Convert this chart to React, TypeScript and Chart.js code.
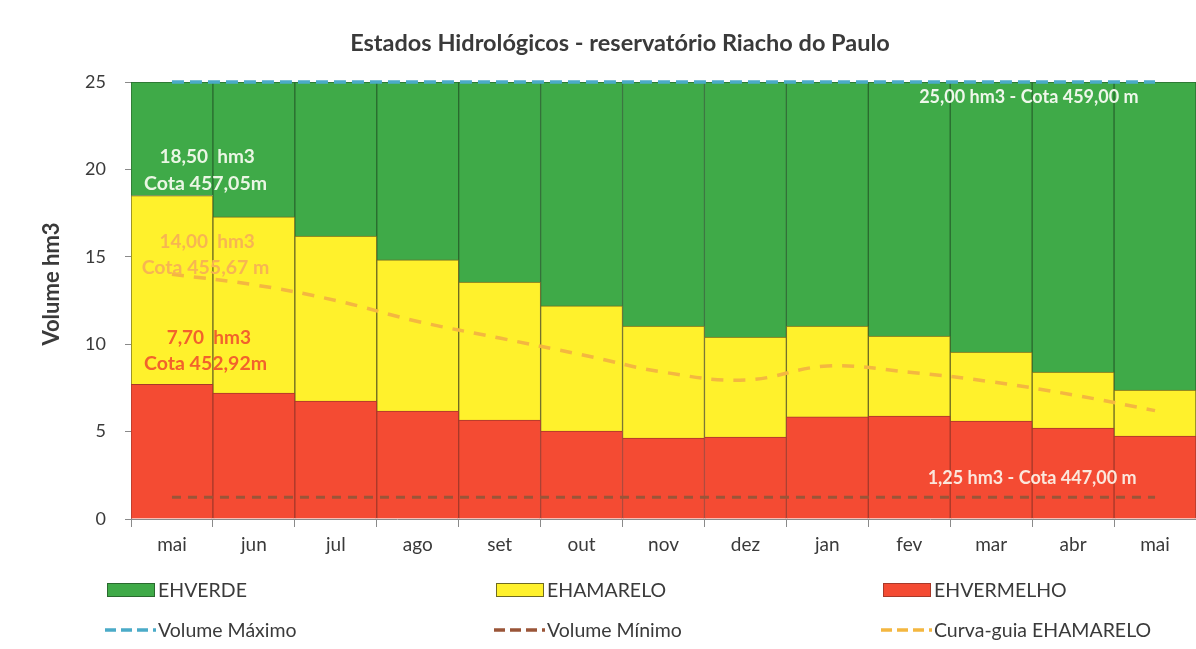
import React, { useEffect, useRef } from "react";
import { Chart, registerables } from "chart.js";

Chart.register(...registerables);

// ---------- data ----------
const months = ["mai", "jun", "jul", "ago", "set", "out", "nov", "dez", "jan", "fev", "mar", "abr", "mai"];
const redTop = [7.7, 7.2, 6.75, 6.18, 5.66, 5.03, 4.63, 4.69, 5.84, 5.89, 5.6, 5.2, 4.75];
const yellowTop = [18.5, 17.28, 16.19, 14.82, 13.56, 12.19, 11.04, 10.41, 11.04, 10.47, 9.55, 8.41, 7.38];
const greenTop = [25, 25, 25, 25, 25, 25, 25, 25, 25, 25, 25, 25, 25];
const volumeMax = [25, 25, 25, 25, 25, 25, 25, 25, 25, 25, 25, 25, 25];
const volumeMin = [1.25, 1.25, 1.25, 1.25, 1.25, 1.25, 1.25, 1.25, 1.25, 1.25, 1.25, 1.25, 1.25];
const curveGuide = [14.0, 13.4, 12.5, 11.3, 10.35, 9.4, 8.4, 7.95, 8.75, 8.4, 7.85, 7.1, 6.2];
const yTickValues = [0, 5, 10, 15, 20, 25];

const titleText = "Estados Hidrológicos - reservatório Riacho do Paulo";
const yAxisTitle = "Volume hm3";

// text notes: [text, category index, value, color, font size]
const notes: [string, number, number, string, number][] = [
  ["18,50  hm3", 0.43, 20.7, "#eaf6e4", 19],
  ["Cota 457,05m", 0.41, 19.2, "#eaf6e4", 19.5],
  ["14,00  hm3", 0.43, 15.85, "#f7b552", 19],
  ["Cota 455,67 m", 0.41, 14.36, "#f7b552", 19.5],
  ["7,70  hm3", 0.45, 10.35, "#f2622c", 19],
  ["Cota 452,92m", 0.41, 8.87, "#f2622c", 19.5],
  ["25,00 hm3 - Cota 459,00 m", 10.46, 24.15, "#eef7ea", 18],
  ["1,25 hm3 - Cota 447,00 m", 10.5, 2.35, "#fbe7dc", 18],
];

// ---------- styles ----------
const FONT = "Lato, 'Liberation Sans', sans-serif";
const TEXT = "#3a3a3a";
const GREEN = "#3faa48";
const YELLOW = "#fff12c";
const RED = "#f44b33";

const textPlugin = {
  id: "customTexts",
  afterDatasetsDraw(chart: any) {
    const { ctx, scales } = chart;
    const x = scales.x;
    const y = scales.y;
    const x0 = x.getPixelForValue(0);
    const step = x.getPixelForValue(1) - x0;
    ctx.save();
    ctx.textAlign = "center";
    ctx.textBaseline = "middle";
    for (const [t, i, v, c, fs] of notes) {
      ctx.font = `bold ${fs}px ${FONT}`;
      ctx.fillStyle = c;
      ctx.fillText(t, x0 + i * step, y.getPixelForValue(v));
    }
    ctx.restore();
  },
  afterDraw(chart: any) {
    const { ctx } = chart;
    ctx.save();
    // title
    ctx.fillStyle = TEXT;
    ctx.textAlign = "center";
    ctx.textBaseline = "middle";
    ctx.font = `bold 23.5px ${FONT}`;
    ctx.fillText(titleText, 620, 43);
    // y axis title
    ctx.save();
    ctx.translate(52, 284);
    ctx.rotate(-Math.PI / 2);
    ctx.font = `bold 22px ${FONT}`;
    ctx.fillText(yAxisTitle, 0, 0);
    ctx.restore();

    // legend
    const order = [2, 1, 0, 3, 4, 5];
    const cols = [105, 494, 881];
    const rows = [590, 630];
    ctx.font = `19.5px ${FONT}`;
    ctx.textAlign = "left";
    order.forEach((di, k) => {
      const ds = chart.data.datasets[di];
      const cx = cols[k % 3];
      const cy = rows[Math.floor(k / 3)];
      if (ds.type === "line") {
        ctx.save();
        ctx.strokeStyle = ds.borderColor;
        ctx.lineWidth = 3.5;
        ctx.setLineDash([11, 5]);
        ctx.beginPath();
        ctx.moveTo(cx, cy);
        ctx.lineTo(cx + 51, cy);
        ctx.stroke();
        ctx.restore();
        ctx.fillStyle = TEXT;
        ctx.fillText(ds.label, cx + 53, cy + 1);
      } else {
        ctx.fillStyle = ds.backgroundColor;
        ctx.fillRect(cx + 2, cy - 7, 48, 14);
        ctx.strokeStyle = ds.borderColor;
        ctx.lineWidth = 1;
        ctx.strokeRect(cx + 2.5, cy - 6.5, 47, 13);
        ctx.fillStyle = TEXT;
        ctx.fillText(ds.label, cx + 53, cy + 1);
      }
    });
    ctx.restore();
  },
};

export default function App() {
  const ref = useRef<HTMLCanvasElement | null>(null);

  useEffect(() => {
    if (!ref.current) return;
    const barCommon = {
      type: "bar" as const,
      grouped: false,
      categoryPercentage: 1,
      barPercentage: 1,
      borderWidth: 1,
      borderSkipped: "start",
      order: 2,
    };
    const chart = new Chart(ref.current, {
      type: "bar",
      data: {
        labels: months,
        datasets: [
          {
            ...barCommon,
            label: "EHVERMELHO",
            data: redTop.map((v) => [0, v]),
            backgroundColor: RED,
            borderColor: "#a8392a",
          },
          {
            ...barCommon,
            label: "EHAMARELO",
            data: yellowTop.map((v, i) => [redTop[i], v]),
            backgroundColor: YELLOW,
            borderColor: "#6e6a22",
          },
          {
            ...barCommon,
            label: "EHVERDE",
            data: greenTop.map((v, i) => [yellowTop[i], v]),
            backgroundColor: GREEN,
            borderColor: "#2a6a2f",
          },
          {
            type: "line",
            label: "Volume Máximo",
            data: volumeMax,
            borderColor: "#4babc8",
            borderWidth: 3.5,
            borderDash: [12, 6],
            pointRadius: 0,
            clip: false,
            order: 0,
          },
          {
            type: "line",
            label: "Volume Mínimo",
            data: volumeMin,
            borderColor: "#9a5538",
            borderWidth: 3,
            borderDash: [9, 7],
            pointRadius: 0,
            order: 0,
          },
          {
            type: "line",
            label: "Curva-guia EHAMARELO",
            data: curveGuide,
            borderColor: "#f4b740",
            borderWidth: 3.5,
            borderDash: [12, 10],
            pointRadius: 0,
            tension: 0.4,
            order: 0,
          },
        ] as any,
      },
      options: {
        animation: false,
        responsive: false,
        devicePixelRatio: 1,
        layout: { padding: { top: 82, right: 0, bottom: 0, left: 0 } },
        plugins: {
          legend: { display: false },
          title: { display: false },
          tooltip: { enabled: false },
        },
        scales: {
          x: {
            offset: true,
            grid: { display: true, drawOnChartArea: false, offset: true, tickLength: 8, color: "#8a8a8a" },
            border: { display: true, color: "#8a8a8a" },
            ticks: { font: { family: FONT, size: 19 }, color: TEXT, padding: 6 },
            afterFit: (s: any) => {
              s.height = 130;
            },
          },
          y: {
            min: 0,
            max: 25,
            afterBuildTicks: (s: any) => {
              s.ticks = yTickValues.map((v) => ({ value: v }));
            },
            grid: { display: true, drawOnChartArea: false, tickLength: 6, color: "#8a8a8a" },
            border: { display: true, color: "#8a8a8a" },
            ticks: { font: { family: FONT, size: 18 }, color: TEXT, padding: 19 },
            afterFit: (s: any) => {
              s.width = 131;
            },
          },
        },
      } as any,
      plugins: [textPlugin],
    });
    return () => chart.destroy();
  }, []);

  return (
    <div style={{ position: "fixed", left: 0, top: 0, width: 1196, height: 649, background: "#ffffff" }}>
      <canvas ref={ref} width={1196} height={649} style={{ display: "block", width: 1196, height: 649 }} />
    </div>
  );
}
